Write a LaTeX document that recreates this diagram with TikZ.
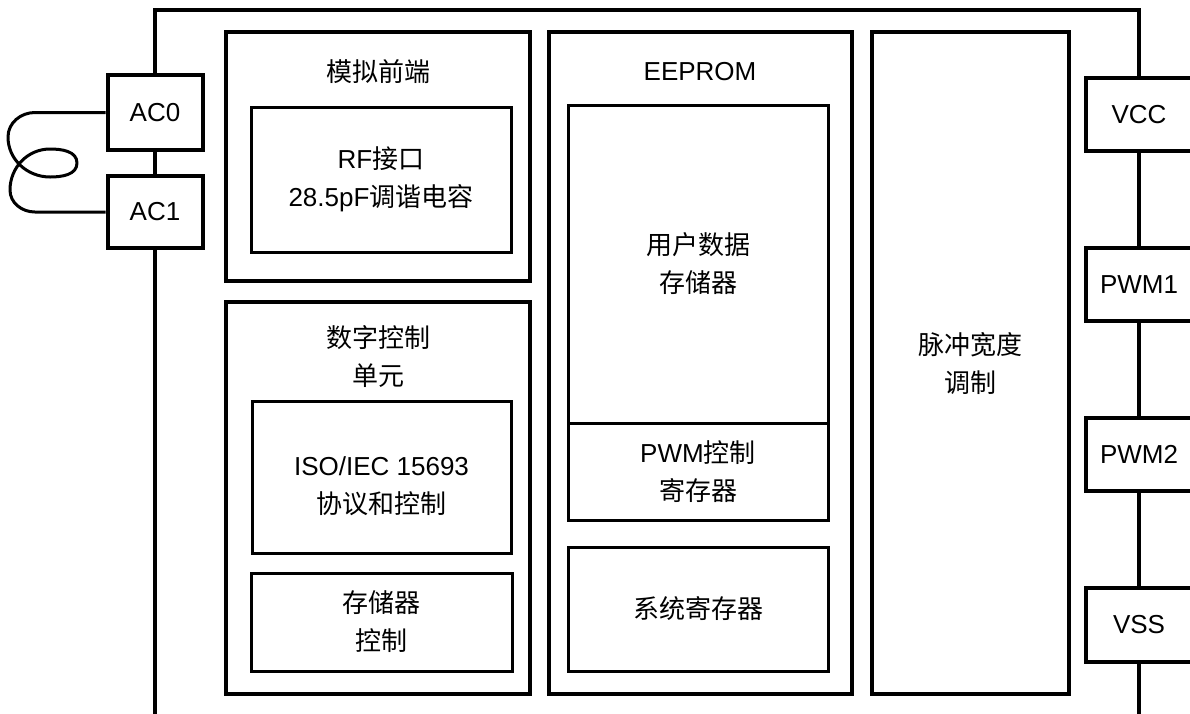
\documentclass[tikz,border=0pt]{standalone}
\usepackage{fontspec}
\setmainfont{Liberation Sans}
\newfontfamily\cjk{Noto Sans CJK SC}
\begin{document}
\begin{tikzpicture}[x=1pt,y=-1pt,
  every node/.style={font=\fontsize{26}{38}\selectfont, inner sep=0pt, align=center},
  panel/.style={draw, line width=4pt, fill=white},
  inbox/.style={draw, line width=3pt},
  pinbox/.style={draw, line width=4pt, fill=white},
  frame/.style={line width=3.5pt},
  wire/.style={line width=3pt, line join=round}]
\useasboundingbox (0,0) rectangle (1190,713);
\clip (0,0) rectangle (1190,713);

% outer frame corners
\coordinate (tl) at (155,10);
\coordinate (tr) at (1139,10);
\coordinate (bl) at (155,720);
\coordinate (br) at (1139,720);

% pins
\node[pinbox, minimum width=95pt, minimum height=75pt] (ac0) at (155,112.5) {AC0};
\node[pinbox, minimum width=95pt, minimum height=72pt] (ac1) at (155,212) {AC1};
\node[pinbox, minimum width=106pt, minimum height=73pt] (vcc) at (1139,114.5) {VCC};
\node[pinbox, minimum width=106pt, minimum height=73pt] (pwm1) at (1139,284.5) {PWM1};
\node[pinbox, minimum width=106pt, minimum height=73pt] (pwm2) at (1139,454.5) {PWM2};
\node[pinbox, minimum width=106pt, minimum height=74pt] (vss) at (1139,625) {VSS};

% frame
\draw[frame] (ac0.north) -- (tl) -- (tr) -- (vcc.north);
\draw[frame] (ac0.south) -- (ac1.north);
\draw[frame] (ac1.south) -- (bl);
\draw[frame] (vcc.south) -- (pwm1.north);
\draw[frame] (pwm1.south) -- (pwm2.north);
\draw[frame] (pwm2.south) -- (vss.north);
\draw[frame] (vss.south) -- (br);

% antenna loop
\draw[wire] (ac0.west) -- (35,112.5) to[out=180,in=90] (8,137) to[out=-90,in=180] (50,177)
  to[out=0,in=-90] (77,163) to[out=90,in=0] (50,149) to[out=180,in=90] (10,190)
  to[out=-90,in=180] (35,212) -- (ac1.west);

% analog front end
\node[panel, minimum width=304pt, minimum height=249pt] (afe) at (378,156.5) {};
\node (afet) at (378,72) {\cjk 模拟前端};
\node[inbox, minimum width=260pt, minimum height=145pt] (rf) at (381,179.5)
  {RF{\cjk 接口}\\28.5pF{\cjk 调谐电容}};

% digital control unit
\node[panel, minimum width=304pt, minimum height=392pt] (dcu) at (378,498) {};
\node (dcut) at (378,357) {\cjk 数字控制\\\cjk 单元};
\node[inbox, minimum width=259pt, minimum height=152pt] (iso) at (381.5,477) {};
\node (isot) at (381.5,486) {ISO/IEC 15693\\\cjk 协议和控制};
\node[inbox, minimum width=261pt, minimum height=98pt] (memc) at (381.5,622) {\cjk 存储器\\\cjk 控制};

% EEPROM
\node[panel, minimum width=303pt, minimum height=662pt] (eep) at (700.5,363) {};
\node (eept) at (700,72) {EEPROM};
\node[inbox, minimum width=260pt, minimum height=318pt] (ud) at (698,264) {\cjk 用户数据\\\cjk 存储器};
\node[inbox, minimum width=260pt, minimum height=97pt] (pwr) at (698,471.5) {PWM{\cjk 控制}\\\cjk 寄存器};
\node[inbox, minimum width=260pt, minimum height=124pt] (sys) at (698,609) {\cjk 系统寄存器};

% PWM panel
\node[panel, minimum width=197pt, minimum height=662pt] (pwmp) at (970.5,363) {\cjk 脉冲宽度\\\cjk 调制};
\end{tikzpicture}
\end{document}
